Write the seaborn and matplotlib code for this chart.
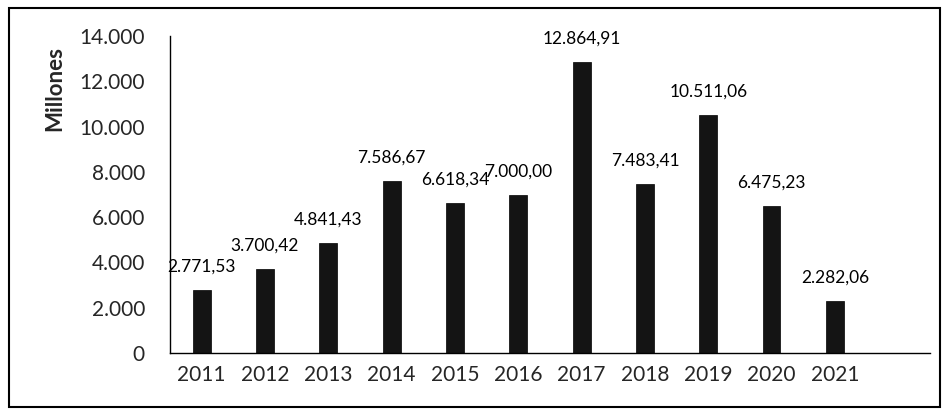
import matplotlib
matplotlib.use("Agg")
import matplotlib.pyplot as plt
import matplotlib.patches as mpatches
from matplotlib.ticker import FixedLocator, FuncFormatter
import seaborn as sns
import pandas as pd

years = ["2011", "2012", "2013", "2014", "2015", "2016", "2017", "2018", "2019", "2020", "2021"]
values = [2771.53, 3700.42, 4841.43, 7586.67, 6618.34, 7000.00, 12864.91, 7483.41, 10511.06, 6475.23, 2282.06]
labels = ["2.771,53", "3.700,42", "4.841,43", "7.586,67", "6.618,34", "7.000,00",
          "12.864,91", "7.483,41", "10.511,06", "6.475,23", "2.282,06"]
y_ticks = [0, 2000, 4000, 6000, 8000, 10000, 12000, 14000]

sns.set_theme(style="white")
plt.rcParams['font.family'] = ['Lato', 'DejaVu Sans']

df = pd.DataFrame({"year": years, "value": values})

fig = plt.figure(figsize=(9.47, 4.13), dpi=100)
ax = fig.add_axes([0.1795, 0.1453, 0.8025, 0.7675])
sns.barplot(data=df, x="year", y="value", color="#141414", width=0.28,
            saturation=1, ax=ax, edgecolor="#000000", linewidth=0.5)

ax.set_xlim(-0.5, 11.5)
ax.set_ylim(0, 14000)
ax.yaxis.set_major_locator(FixedLocator(y_ticks))
ax.yaxis.set_major_formatter(FuncFormatter(lambda v, p: f"{int(v):,}".replace(",", ".")))

ax.set_xticks([i - 0.5 for i in range(13)])
ax.set_xticklabels([""] * 13)
ax.set_xticks(range(len(years)), minor=True)
ax.set_xticklabels(years, minor=True)
ax.tick_params(axis="x", which="minor", length=0, pad=9, labelsize=15)
ax.tick_params(axis="x", which="major", length=6, width=1, direction="out", color="black")
ax.tick_params(axis="y", length=6, width=1, direction="out", color="black", labelsize=15, pad=12)

for s in ["top", "right"]:
    ax.spines[s].set_visible(False)
for s in ["left", "bottom"]:
    ax.spines[s].set_color("black")
    ax.spines[s].set_linewidth(1.0)

ax.set_xlabel("")
ax.set_ylabel("Millones", fontsize=16, fontweight="bold", va="center", ha="center")
ax.yaxis.set_label_coords(-0.152, 0.835)

for i, (v, lab) in enumerate(zip(values, labels)):
    ax.annotate(lab, (i, v), xytext=(0, 11), textcoords="offset points",
                ha="center", va="bottom", fontsize=12.5, color="black")

fig.patches.append(mpatches.Rectangle((0.009, 0.015), 0.984, 0.965, transform=fig.transFigure,
                                      fill=False, edgecolor="black", linewidth=1.5))

fig.savefig("out.png", dpi=100)
